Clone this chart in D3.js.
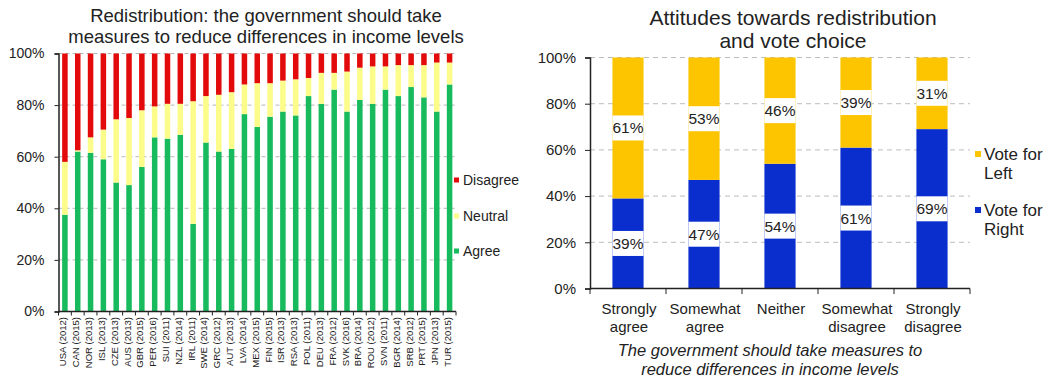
<!DOCTYPE html>
<html>
<head>
<meta charset="utf-8">
<script src="https://cdn.jsdelivr.net/npm/d3@7"></script>
<style>
  html, body { margin: 0; padding: 0; background: #fff; }
  svg { display: block; font-family: "Liberation Sans", Arial, sans-serif; }
</style>
</head>
<body>
<svg id="chart" width="1052" height="384"></svg>
<script>
// ---- Left panel: attitudes towards redistribution by country ----
const countries = ["USA (2012)", "CAN (2015)", "NOR (2013)", "ISL (2013)", "CZE (2013)", "AUS (2013)",
  "GBR (2015)", "PER (2016)", "SUI (2011)", "NZL (2014)", "IRL (2011)", "SWE (2014)", "GRC (2012)",
  "AUT (2013)", "LVA (2014)", "MEX (2015)", "FIN (2015)", "ISR (2013)", "RSA (2013)", "POL (2011)",
  "DEU (2013)", "FRA (2012)", "SVK (2016)", "BRA (2014)", "ROU (2012)", "SVN (2011)", "BGR (2014)",
  "SRB (2012)", "PRT (2015)", "JPN (2013)", "TUR (2015)"];
const agree =    [37.5, 62, 61.5, 59, 50, 49, 56, 67.5, 67, 68.5, 34, 65.5, 62, 63, 76.5, 71.5, 75.5,
  77.5, 76, 83.5, 80.5, 86, 77.5, 82, 80.5, 86, 83.5, 87, 83, 77.5, 88];
const neutral =  [20.5, 0.5, 6, 11.5, 24.5, 26, 22, 12, 13.5, 12, 47.5, 18, 22, 22, 11.5, 17, 13,
  12, 14, 7, 12, 6.5, 15.5, 12.5, 14.5, 9, 12, 8.5, 12.5, 19, 8.5];
const disagree = countries.map((c, i) => 100 - agree[i] - neutral[i]);
const opinionKeys = ["Agree", "Neutral", "Disagree"];
const opinionColors = { Agree: "#17ba5c", Neutral: "#fcfc8a", Disagree: "#e20a0a" };
const percentTicks = [0, 20, 40, 60, 80, 100];

// ---- Right panel: vote choice by attitude ----
const attitudes = [["Strongly", "agree"], ["Somewhat", "agree"], ["Neither"], ["Somewhat", "disagree"], ["Strongly", "disagree"]];
const voteRight = [39, 47, 54, 61, 69];
const voteLeft = [61, 53, 46, 39, 31];
const voteKeys = ["Vote for Right", "Vote for Left"];
const voteColors = { "Vote for Right": "#0a2dce", "Vote for Left": "#fcc500" };

const svg = d3.select("#chart");
const textColor = "#222";
const fontFamily = "Liberation Sans, Arial, sans-serif";

// ================= Left chart =================
{
  const x0 = 58.5, x1 = 456, yBottom = 311.5, yTop = 53.5;
  const x = d3.scaleBand().domain(countries).range([x0, x1]).paddingInner(0.57).paddingOuter(0.285);
  const y = d3.scaleLinear().domain([0, 100]).range([yBottom, yTop]);
  const g = svg.append("g");

  g.append("text").attr("x", 266).attr("y", 22).attr("text-anchor", "middle")
    .attr("font-size", 18.5).attr("fill", textColor).text("Redistribution: the government should take");
  g.append("text").attr("x", 266).attr("y", 43).attr("text-anchor", "middle")
    .attr("font-size", 18.5).attr("fill", textColor).text("measures to reduce differences in income levels");

  // dashed gridlines
  g.selectAll("line.grid").data(percentTicks.slice(1)).join("line")
    .attr("x1", x0).attr("x2", x1).attr("y1", d => y(d)).attr("y2", d => y(d))
    .attr("stroke", "#b8b8b8").attr("stroke-dasharray", "4,3");

  const rows = countries.map((c, i) => ({ country: c, Agree: agree[i], Neutral: neutral[i], Disagree: disagree[i] }));
  const stacked = d3.stack().keys(opinionKeys)(rows);
  g.selectAll("g.series").data(stacked).join("g")
    .attr("fill", d => opinionColors[d.key])
    .selectAll("rect").data(d => d).join("rect")
    .attr("x", d => x(d.data.country)).attr("width", x.bandwidth())
    .attr("y", d => y(d[1])).attr("height", d => y(d[0]) - y(d[1]));

  // y axis
  const yAxis = d3.axisLeft(y).tickValues(percentTicks).tickFormat(d => d + "%").tickSize(4).tickPadding(10);
  const ya = g.append("g").attr("transform", `translate(${x0},0)`).call(yAxis);
  ya.select(".domain").attr("stroke", "#222").attr("stroke-width", 1.5);
  ya.selectAll(".tick line").attr("stroke", "#222");
  ya.selectAll("text").attr("font-size", 14).attr("fill", textColor).attr("font-family", fontFamily);

  // x axis with ticks on category boundaries
  const xa = g.append("g");
  xa.append("line").attr("x1", x0).attr("x2", x1).attr("y1", yBottom).attr("y2", yBottom)
    .attr("stroke", "#222").attr("stroke-width", 1.5);
  const step = x.step();
  xa.selectAll("line.tk").data(d3.range(countries.length + 1)).join("line")
    .attr("x1", i => x0 + i * step).attr("x2", i => x0 + i * step)
    .attr("y1", yBottom).attr("y2", yBottom + 4).attr("stroke", "#222");
  xa.selectAll("text").data(countries).join("text")
    .attr("transform", d => `translate(${x(d) + x.bandwidth() / 2 + 1.5},317) rotate(-90)`)
    .attr("text-anchor", "end").attr("font-size", 9.5).attr("fill", textColor).text(d => d);

  // legend
  const legendItems = [["Disagree", 180], ["Neutral", 216], ["Agree", 251]];
  const lg = g.append("g");
  lg.selectAll("rect").data(legendItems).join("rect")
    .attr("x", 454).attr("y", d => d[1] - 2.5).attr("width", 5).attr("height", 5)
    .attr("fill", d => opinionColors[d[0]]);
  lg.selectAll("text").data(legendItems).join("text")
    .attr("x", 463).attr("y", d => d[1] + 5).attr("font-size", 14).attr("fill", textColor).text(d => d[0]);
}

// ================= Right chart =================
{
  const x0 = 590, x1 = 970, yBottom = 288.5, yTop = 57.5;
  const labels = attitudes.map(a => a.join(" "));
  const x = d3.scaleBand().domain(labels).range([x0, x1]).paddingInner(0.59).paddingOuter(0.295);
  const y = d3.scaleLinear().domain([0, 100]).range([yBottom, yTop]);
  const g = svg.append("g");

  g.append("text").attr("x", 793).attr("y", 25).attr("text-anchor", "middle")
    .attr("font-size", 21).attr("fill", textColor).text("Attitudes towards redistribution");
  g.append("text").attr("x", 793).attr("y", 48).attr("text-anchor", "middle")
    .attr("font-size", 21).attr("fill", textColor).text("and vote choice");

  g.selectAll("line.grid").data(percentTicks.slice(1)).join("line")
    .attr("x1", x0).attr("x2", x1).attr("y1", d => y(d)).attr("y2", d => y(d))
    .attr("stroke", "#bdbdbd").attr("stroke-dasharray", "5,4");

  const rows = labels.map((c, i) => ({ cat: c, "Vote for Right": voteRight[i], "Vote for Left": voteLeft[i] }));
  const stacked = d3.stack().keys(voteKeys)(rows);
  g.selectAll("g.series").data(stacked).join("g")
    .attr("fill", d => voteColors[d.key])
    .selectAll("rect").data(d => d).join("rect")
    .attr("x", d => x(d.data.cat)).attr("width", x.bandwidth())
    .attr("y", d => y(d[1])).attr("height", d => y(d[0]) - y(d[1]));

  // value labels on white boxes, centred in each segment
  const segs = stacked.flatMap(s => s.map(d => ({ cat: d.data.cat, lo: d[0], hi: d[1], v: d[1] - d[0] })));
  const lab = g.append("g");
  lab.selectAll("rect").data(segs).join("rect")
    .attr("x", d => x(d.cat)).attr("width", x.bandwidth())
    .attr("y", d => y((d.lo + d.hi) / 2) - 12.5).attr("height", 25).attr("fill", "#fff");
  lab.selectAll("text").data(segs).join("text")
    .attr("x", d => x(d.cat) + x.bandwidth() / 2).attr("y", d => y((d.lo + d.hi) / 2) + 5.5)
    .attr("text-anchor", "middle").attr("font-size", 15.5).attr("fill", textColor)
    .text(d => Math.round(d.v) + "%");

  const yAxis = d3.axisLeft(y).tickValues(percentTicks).tickFormat(d => d + "%").tickSize(5).tickPadding(9);
  const ya = g.append("g").attr("transform", `translate(${x0},0)`).call(yAxis);
  ya.select(".domain").attr("stroke", "#222").attr("stroke-width", 1.5);
  ya.selectAll(".tick line").attr("stroke", "#222");
  ya.selectAll("text").attr("font-size", 15).attr("fill", textColor).attr("font-family", fontFamily);

  const xa = g.append("g");
  xa.append("line").attr("x1", x0).attr("x2", x1).attr("y1", yBottom).attr("y2", yBottom)
    .attr("stroke", "#222").attr("stroke-width", 1.5);
  xa.selectAll("line.tk").data(d3.range(labels.length + 1)).join("line")
    .attr("x1", i => x0 + i * x.step()).attr("x2", i => x0 + i * x.step())
    .attr("y1", yBottom).attr("y2", yBottom + 5.5).attr("stroke", "#222");
  const cl = xa.selectAll("text").data(attitudes).join("text")
    .attr("text-anchor", "middle").attr("font-size", 15).attr("fill", textColor);
  cl.each(function (d, i) {
    const cx = x(labels[i]) + x.bandwidth() / 2 + 1;
    d3.select(this).selectAll("tspan").data(d).join("tspan")
      .attr("x", cx).attr("y", (t, j) => 314 + j * 18).text(t => t);
  });

  g.append("text").attr("x", 770).attr("y", 356).attr("text-anchor", "middle")
    .attr("font-size", 16.5).attr("font-style", "italic").attr("fill", textColor)
    .text("The government should take measures to");
  g.append("text").attr("x", 770).attr("y", 375).attr("text-anchor", "middle")
    .attr("font-size", 16.5).attr("font-style", "italic").attr("fill", textColor)
    .text("reduce differences in income levels");

  // legend
  const legendItems = [["Vote for Left", 154], ["Vote for Right", 210]];
  const lg = g.append("g");
  lg.selectAll("rect").data(legendItems).join("rect")
    .attr("x", 975).attr("y", d => d[1] - 3).attr("width", 6).attr("height", 6)
    .attr("fill", d => voteColors[d[0]]);
  const lt = lg.selectAll("text").data(legendItems).join("text")
    .attr("font-size", 17).attr("fill", textColor);
  lt.each(function (d) {
    const parts = ["Vote for", d[0].replace("Vote for ", "")];
    d3.select(this).selectAll("tspan").data(parts).join("tspan")
      .attr("x", 984).attr("y", (t, j) => d[1] + 6 + j * 18.5).text(t => t);
  });
}
</script>
</body>
</html>
